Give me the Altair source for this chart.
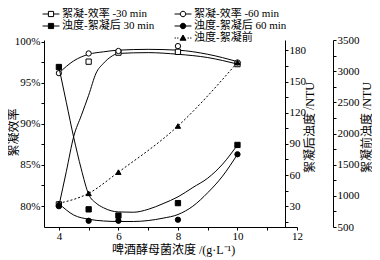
import altair as alt
import pandas as pd

# ---- measured points ----
X_PTS = [4, 5, 6, 8, 10]
EFF_30 = [80.2, 97.6, 98.7, 98.8, 97.3]      # 絮凝-效率 -30 min (%)
EFF_60 = [96.2, 98.6, 98.9, 99.5, 97.5]      # 絮凝-效率 -60 min (%)
TURB_30 = [164, 27, 21, 33, 89]              # 浊度-絮凝后 30 min (NTU)
TURB_60 = [30, 16, 16, 17, 80]               # 浊度-絮凝后 60 min (NTU)
TURB_BEFORE = [880, 1040, 1380, 2120, 3140]  # 浊度-絮凝前 (NTU)

# ---- fitted curves ----
CURVE_E30_X = [4, 4.25, 4.5, 4.75, 5, 5.25, 5.5, 5.75, 6, 7, 8, 9, 10]
CURVE_E30_Y = [80.0, 84.2, 88.5, 91.0, 93.5, 96.2, 97.4, 98.2, 98.6, 98.7, 98.5, 98.1, 97.3]
CURVE_E60_X = [4, 4.5, 5, 5.5, 6, 7, 8, 9, 10]
CURVE_E60_Y = [96.2, 97.7, 98.5, 98.8, 99.0, 99.1, 99.0, 98.5, 97.6]
CURVE_T30_X = [4, 4.25, 4.5, 4.75, 5, 5.25, 5.5, 6, 6.5, 7, 7.5, 8, 8.5, 9, 9.5, 10]
CURVE_T30_Y = [164, 130, 96, 66, 41.5, 33, 28.5, 24.5, 24.2, 27, 32.5, 39, 48, 57, 70.5, 89]
CURVE_T60_X = [4, 4.5, 5, 5.5, 6, 6.5, 7, 7.5, 8, 8.5, 9, 9.5, 10]
CURVE_T60_Y = [32.6, 21.5, 17.5, 15.8, 15.3, 15.3, 16.2, 18.5, 22, 30, 43, 59, 80]

SERIES = ["絮凝-效率 -30 min", "絮凝-效率 -60 min",
          "浊度-絮凝后 30 min", "浊度-絮凝后 60 min",
          " ", "浊度-絮凝前"]

X_TITLE = "啤酒酵母菌浓度 /(g·L⁻¹)"
Y1_TITLE = "絮凝效率"
Y2_TITLE = "絮凝后浊度 /NTU"
Y3_TITLE = "絮凝前浊度 /NTU"

FONT = "Liberation Serif, Noto Sans CJK SC"

# legend symbols: line + marker
SQ = "M-0.4,-0.4H0.4V0.4H-0.4Z"
CI = "M-0.42,0A0.42,0.42 0 1,0 0.42,0A0.42,0.42 0 1,0 -0.42,0Z"
LINE_SQ = "M-1.3,0H-0.4M0.4,0H1.3"
LINE_CI = "M-1.3,0H-0.42M0.42,0H1.3"
DOTS = "M-1.3,0H-1.1M-0.9,0H-0.7M0.7,0H0.9M1.1,0H1.3"
TRI = "M0,-0.46L0.46,0.34H-0.46Z"
PATHS = [LINE_SQ + SQ, LINE_CI + CI, LINE_SQ + SQ, LINE_CI + CI, "M0,0", DOTS + TRI]
FILLS = ["white", "white", "black", "black", "white", "black"]
STROKES = ["black", "black", "black", "black", "white", "black"]

pts = pd.DataFrame({"x": X_PTS, "e30": EFF_30, "e60": EFF_60,
                    "t30": TURB_30, "t60": TURB_60, "tb": TURB_BEFORE})
c_e30 = pd.DataFrame({"x": CURVE_E30_X, "y": CURVE_E30_Y})
c_e60 = pd.DataFrame({"x": CURVE_E60_X, "y": CURVE_E60_Y})
c_t30 = pd.DataFrame({"x": CURVE_T30_X, "y": CURVE_T30_Y})
c_t60 = pd.DataFrame({"x": CURVE_T60_X, "y": CURVE_T60_Y})
leg_df = pd.DataFrame({"series": SERIES})

x_axis = alt.Axis(values=list(range(4, 13)),
                  labelExpr="datum.value % 2 == 0 ? datum.label : ''",
                  tickSize=3, labelPadding=0, labelFlush=False,
                  title=X_TITLE, titleX=129, titleY=22, titleBaseline="middle")
xenc = alt.X("x:Q", scale=alt.Scale(domain=[3.5, 12], nice=False, zero=False), axis=x_axis)

axE = alt.Axis(orient="left", values=[80, 82.5, 85, 87.5, 90, 92.5, 95, 97.5, 100],
               labelExpr="datum.value % 5 == 0 ? datum.value + '%' : ''",
               tickSize=3, labelPadding=1, labelFlush=False,
               title=Y1_TITLE, titleX=-31, titleY=92, titleAngle=270,
               titleAlign="center", titleBaseline="middle")
scE = alt.Scale(domain=[77.44, 100.24], nice=False, zero=False)

axT = alt.Axis(orient="right", offset=-12, values=list(range(15, 181, 15)),
               labelExpr="datum.value % 30 == 0 ? datum.label : ''", format="d",
               tickSize=3, labelPadding=1, labelFlush=False,
               title=Y2_TITLE, titleX=24, titleY=87, titleAngle=270,
               titleAlign="center", titleBaseline="middle")
scT = alt.Scale(domain=[10, 190], nice=False, zero=False)

axB = alt.Axis(orient="right", offset=36, values=list(range(500, 3501, 250)),
               labelExpr="datum.value % 500 == 0 ? datum.label : ''", format="d",
               tickSize=3, labelPadding=1, labelFlush=False,
               title=Y3_TITLE, titleX=33, titleY=87, titleAngle=270,
               titleAlign="center", titleBaseline="middle")
scB = alt.Scale(domain=[500, 3500], nice=False, zero=False)


def yE(f):
    return alt.Y(f + ":Q", scale=scE, axis=axE, title=Y1_TITLE)


def yT(f):
    return alt.Y(f + ":Q", scale=scT, axis=axT, title=Y2_TITLE)


def yB(f):
    return alt.Y(f + ":Q", scale=scB, axis=axB, title=Y3_TITLE)


def line(df, y, dash=None):
    kw = dict(interpolate="monotone", color="black", strokeWidth=1, clip=True)
    if dash:
        kw["strokeDash"] = dash
    return alt.Chart(df).mark_line(**kw).encode(x=xenc, y=y)


def marker(y, shape, fill):
    return alt.Chart(pts).mark_point(shape=shape, filled=True, fill=fill, stroke="black",
                                     strokeWidth=1, size=28, opacity=1).encode(x=xenc, y=y)


leg = alt.Legend(orient="none", legendX=0, legendY=-33, columns=2, direction="horizontal",
                 title=None, symbolSize=169, labelFont=FONT, labelFontSize=11,
                 labelColor="black", labelOffset=4, rowPadding=0, columnPadding=17,
                 padding=0, symbolStrokeWidth=1)

legend_layer = alt.Chart(leg_df).transform_filter("false").mark_point(
    filled=True, strokeWidth=1, opacity=1, size=169
).encode(
    shape=alt.Shape("series:N", scale=alt.Scale(domain=SERIES, range=PATHS), legend=leg),
    fill=alt.Fill("series:N", scale=alt.Scale(domain=SERIES, range=FILLS), legend=leg),
    stroke=alt.Stroke("series:N", scale=alt.Scale(domain=SERIES, range=STROKES), legend=leg),
)

gE = alt.layer(
    line(c_e30, yE("y")), line(c_e60, yE("y")),
    marker(yE("e30"), "square", "white"), marker(yE("e60"), "circle", "white"),
    legend_layer,
)
gT = alt.layer(
    line(c_t30, yT("y")), line(c_t60, yT("y")),
    marker(yT("t30"), "square", "black"), marker(yT("t60"), "circle", "black"),
)
gB = alt.layer(
    line(pts, yB("tb"), dash=[2, 2]),
    marker(yB("tb"), "triangle-up", "black"),
)

chart = alt.layer(gE, gT, gB).resolve_scale(y="independent").properties(
    width=253, height=187,
    autosize=alt.AutoSizeParams(type="none"),
    padding={"left": 36, "top": 32, "right": 75, "bottom": 30},
    background="white",
).configure_view(stroke=None).configure_axis(
    domainColor="black", tickColor="black", labelColor="black", titleColor="black",
    labelFont=FONT, labelFontSize=11, titleFont=FONT, titleFontSize=12,
    titleFontWeight="normal", grid=False, domainWidth=1, tickWidth=1,
)

chart.save("out.html", embed_options={"renderer": "svg", "actions": False})
